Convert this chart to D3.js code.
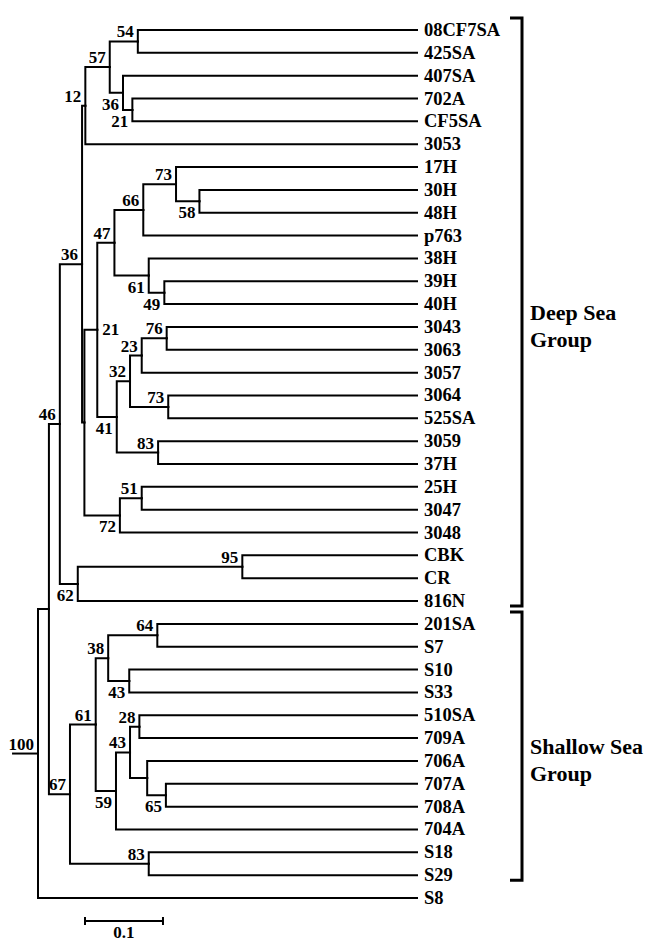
<!DOCTYPE html>
<html>
<head>
<meta charset="utf-8">
<script src="https://cdn.jsdelivr.net/npm/d3@7"></script>
<style>
  body { margin: 0; background: #fff; }
  text { font-family: "Liberation Serif", "Times New Roman", serif; font-weight: bold; fill: #000; }
</style>
</head>
<body>
<div id="chart"></div>
<script>
const width = 646;
const height = 941;

// leaf order, top to bottom
const leaves = ["08CF7SA", "425SA", "407SA", "702A", "CF5SA", "3053", "17H", "30H", "48H", "p763",
  "38H", "39H", "40H", "3043", "3063", "3057", "3064", "525SA", "3059", "37H", "25H", "3047", "3048",
  "CBK", "CR", "816N", "201SA", "S7", "S10", "S33", "510SA", "709A", "706A", "707A", "708A", "704A",
  "S18", "S29", "S8"];

// internal nodes: id, upper child, lower child, node height (distance), bootstrap, label side
const nodes = [
  ["n54", "08CF7SA", "425SA", 0.358, 54, "a"],
  ["n21a", "702A", "CF5SA", 0.365, 21, "b"],
  ["n36a", "407SA", "n21a", 0.377, 36, "b"],
  ["n57", "n54", "n36a", 0.394, 57, "a"],
  ["n12", "n57", "3053", 0.4253, 12, "a"],
  ["n58", "30H", "48H", 0.279, 58, "b"],
  ["n73a", "17H", "n58", 0.309, 73, "a"],
  ["n66", "n73a", "p763", 0.351, 66, "a"],
  ["n49", "39H", "40H", 0.324, 49, "b"],
  ["n61a", "38H", "n49", 0.344, 61, "b"],
  ["n47", "n66", "n61a", 0.388, 47, "a"],
  ["n76", "3043", "3063", 0.321, 76, "a"],
  ["n23", "n76", "3057", 0.353, 23, "a"],
  ["n73b", "3064", "525SA", 0.319, 73, "a"],
  ["n32", "n23", "n73b", 0.368, 32, "a"],
  ["n83a", "3059", "37H", 0.332, 83, "a"],
  ["n41", "n32", "n83a", 0.385, 41, "b"],
  ["n21b", "n47", "n41", 0.410, 21, "r"],
  ["n51", "25H", "3047", 0.353, 51, "a"],
  ["n72", "n51", "3048", 0.381, 72, "b"],
  ["n84", "n21b", "n72", 0.4265, null, null],
  ["n36b", "n12", "n84", 0.4295, 36, "a"],
  ["n95", "CBK", "CR", 0.224, 95, "a"],
  ["n62", "n95", "816N", 0.435, 62, "b"],
  ["n46", "n36b", "n62", 0.458, 46, "a"],
  ["n64", "201SA", "S7", 0.333, 64, "a"],
  ["n43a", "S10", "S33", 0.369, 43, "b"],
  ["n38", "n64", "n43a", 0.396, 38, "a"],
  ["n28", "510SA", "709A", 0.356, 28, "a"],
  ["n65", "707A", "708A", 0.322, 65, "b"],
  ["n147", "706A", "n65", 0.346, null, null],
  ["n43b", "n28", "n147", 0.368, 43, "a"],
  ["n59", "n43b", "704A", 0.386, 59, "b"],
  ["n61b", "n38", "n59", 0.412, 61, "a"],
  ["n83b", "S18", "S29", 0.344, 83, "a"],
  ["n67", "n61b", "n83b", 0.445, 67, "a"],
  ["n49r", "n46", "n67", 0.472, null, null],
  ["root", "n49r", "S8", 0.486, 100, "a"]
];

const groupNames = ["Deep Sea Group", "Shallow Sea Group"];
const groupFirst = ["08CF7SA", "201SA"];
const groupLast = ["816N", "S29"];

const scaleBarValue = 0.1;

// build the tree
const byId = new Map();
leaves.forEach(name => byId.set(name, { id: name, height: 0, leaf: true }));
nodes.forEach(([id, , , h, support, side]) => byId.set(id, { id, height: h, support, side }));
nodes.forEach(([id, a, b]) => { byId.get(id).children = [byId.get(a), byId.get(b)]; });

const root = d3.hierarchy(byId.get("root"));
const rootHeight = root.data.height;

const x = d3.scaleLinear().domain([rootHeight, 0]).range([38, 417]);
const y = d3.scalePoint().domain(leaves).range([30, 898]);

root.eachAfter(d => {
  d.px = x(d.data.height);
  d.py = d.children
    ? (d.children[0].py + d.children[d.children.length - 1].py) / 2
    : y(d.data.id);
});

const svg = d3.select("#chart")
  .append("svg")
  .attr("width", width)
  .attr("height", height);

svg.append("rect").attr("width", width).attr("height", height).attr("fill", "#fff");

const g = svg.append("g")
  .attr("fill", "none")
  .attr("stroke", "#000")
  .attr("stroke-width", 2)
  .attr("stroke-linecap", "square");

// elbow links
g.selectAll("path.link")
  .data(root.descendants().filter(d => d.parent))
  .enter()
  .append("path")
  .attr("class", "link")
  .attr("d", d => `M${d.parent.px},${d.parent.py}V${d.py}H${d.px}`);

// root stub
g.append("path")
  .attr("d", `M${x(rootHeight + 0.032)},${root.py}H${root.px}`);

// leaf labels
svg.selectAll("text.leaf")
  .data(root.leaves())
  .enter()
  .append("text")
  .attr("class", "leaf")
  .attr("x", d => d.px + 7)
  .attr("y", d => d.py + 6)
  .style("font-size", "18.5px")
  .text(d => d.data.id);

// bootstrap values
svg.selectAll("text.boot")
  .data(root.descendants().filter(d => d.data.support != null))
  .enter()
  .append("text")
  .attr("class", "boot")
  .style("font-size", "17px")
  .attr("text-anchor", d => d.data.side === "r" ? "start" : "end")
  .attr("x", d => d.data.side === "r" ? d.px + 5 : d.px - 4)
  .attr("y", d => d.data.side === "a" ? d.py - 4 : d.data.side === "b" ? d.py + 17 : d.py + 5)
  .text(d => d.data.support);

// group brackets
groupNames.forEach((name, i) => {
  const top = y(groupFirst[i]) - 12;
  const bottom = y(groupLast[i]) + 5;
  const bx = 522;
  svg.append("path")
    .attr("d", `M${bx - 12},${top}H${bx}V${bottom}H${bx - 12}`)
    .attr("fill", "none")
    .attr("stroke", "#000")
    .attr("stroke-width", 3);
  const cut = name.lastIndexOf(" ");
  const mid = (top + bottom) / 2;
  const t = svg.append("text")
    .attr("x", bx + 8)
    .attr("y", mid + 8)
    .style("font-size", "22px");
  t.append("tspan").attr("x", bx + 8).text(name.slice(0, cut));
  t.append("tspan").attr("x", bx + 8).attr("dy", 27).text(name.slice(cut + 1));
});

// scale bar
const barX = 85;
const barLen = x(0) - x(scaleBarValue);
const barY = 921;
const sb = svg.append("g").attr("stroke", "#000").attr("stroke-width", 2).attr("fill", "none");
sb.append("path").attr("d", `M${barX},${barY}H${barX + barLen}`);
sb.append("path").attr("d", `M${barX},${barY - 4}V${barY + 4}M${barX + barLen},${barY - 4}V${barY + 4}`);
svg.append("text")
  .attr("x", barX + barLen / 2)
  .attr("y", barY + 17)
  .attr("text-anchor", "middle")
  .style("font-size", "17px")
  .text(d3.format(".1f")(scaleBarValue));
</script>
</body>
</html>
